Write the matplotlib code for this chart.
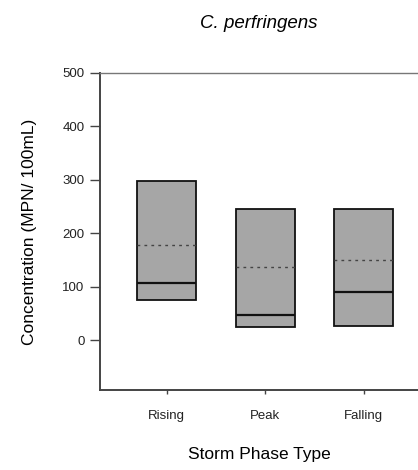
import matplotlib.pyplot as plt

plt.rcParams['font.family'] = ['Liberation Sans', 'DejaVu Sans']

# Storm phase box summaries (MPN/100mL)
phases = ['Rising', 'Peak', 'Falling']
q1 = [75, 25, 27]
q3 = [297, 245, 245]
medians = [107, 47, 90]
means = [178, 137, 151]
yticks = [0, 100, 200, 300, 400, 500]

stats = []
for i in range(len(phases)):
    stats.append({'label': phases[i], 'q1': q1[i], 'q3': q3[i], 'med': medians[i],
                  'mean': means[i], 'whislo': q1[i], 'whishi': q3[i], 'fliers': []})

fig = plt.figure(figsize=(4.18, 4.70), dpi=100)
ax = fig.add_axes([0.239, 0.170, 0.761, 0.675])

ax.bxp(stats, positions=[1, 2, 3], widths=0.6, patch_artist=True,
       showmeans=True, meanline=True, showcaps=False,
       boxprops=dict(facecolor='#a6a6a6', edgecolor='#111111', linewidth=1.3),
       medianprops=dict(color='#111111', linewidth=1.6),
       meanprops=dict(color='#444444', linestyle=(0, (2, 3)), linewidth=1.0),
       whiskerprops=dict(linewidth=0))

ax.set_xlim(0.32, 3.55)
ax.set_ylim(-93, 500)
ax.set_yticks(yticks)
ax.set_xticks([1, 2, 3])
ax.set_xticklabels(phases)
ax.tick_params(axis='y', labelsize=9.5, direction='out', length=7, width=1,
               color='#444444', pad=4, labelcolor='#222222')
ax.tick_params(axis='x', labelsize=9.5, direction='out', length=3, width=1,
               color='#444444', pad=11, labelcolor='#222222')

ax.spines['right'].set_visible(False)
for s in ['left', 'bottom']:
    ax.spines[s].set_linewidth(1.4)
    ax.spines[s].set_color('#444444')
ax.spines['top'].set_linewidth(1.0)
ax.spines['top'].set_color('#777777')

ax.set_title('C. perfringens', fontsize=13.5, style='italic', pad=32)
ax.set_ylabel('Concentration (MPN/ 100mL)', fontsize=12.5, labelpad=18)
ax.set_xlabel('Storm Phase Type', fontsize=12.5, labelpad=18)

plt.savefig('out.png', dpi=100)
